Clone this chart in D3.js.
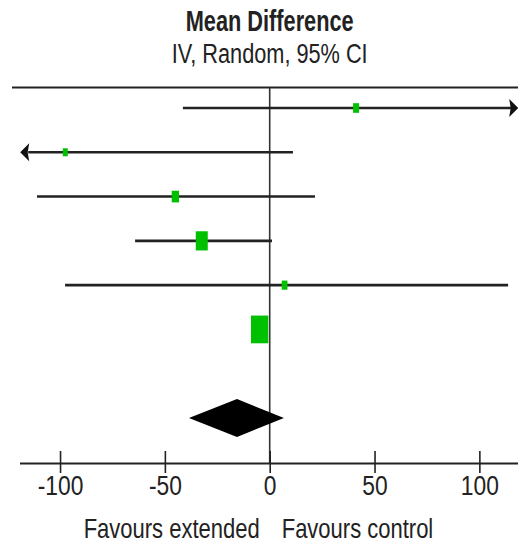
<!DOCTYPE html>
<html>
<head>
<meta charset="utf-8">
<script src="https://cdn.jsdelivr.net/npm/d3@7"></script>
<style>
  html, body { margin: 0; padding: 0; background: #fff; }
  svg { display: block; }
  text { font-family: "Liberation Sans", Arial, sans-serif; fill: #222; }
</style>
</head>
<body>
<script>
// Study-level mean differences (IV, random effects) with 95% confidence limits
const studyRows   = [0, 1, 2, 3, 4, 5];
const meanDiff    = [41.2, -97.5, -45.0, -32.4, 7.1, -4.8];
const ciLow       = [-41.4, -131.0, -111.0, -64.2, -97.6, -7.5];
const ciHigh      = [124.0, 11.1, 21.6, 1.1, 113.7, -2.1];
const weightPct   = [6.1, 4.2, 9.0, 24.4, 5.5, 50.8];

// Pooled estimate
const pooledRow   = 7;
const pooledMean  = -15.6;
const pooledLow   = -38.5;
const pooledHigh  = 6.8;

// Axis
const axisDomain  = [-119, 119];
const tickValues  = [-100, -50, 0, 50, 100];
const headerLines = ["Mean Difference", "IV, Random, 95% CI"];
const favourLeft  = "Favours extended";
const favourRight = "Favours control";

const W = 518, H = 546;
const axisY = 463, topRuleY = 87.5;
const narrow = 0.8;   // condensed lettering

const svg = d3.select("body").append("svg")
  .attr("width", W).attr("height", H);

const x = d3.scaleLinear().domain(axisDomain).range([20.2, 519.2]);
const y = d3.scaleLinear().domain([0, pooledRow]).range([108, 418]);
const boxW = d3.scaleSqrt().domain([0, 100]).range([0, 24.3]);

// Condensed text placed at (px, py)
function label(str, px, py, size, anchor, sx, bold) {
  return svg.append("text")
    .attr("transform", `translate(${px},${py}) scale(${sx},1)`)
    .attr("text-anchor", anchor)
    .attr("font-size", size)
    .attr("font-weight", bold ? "bold" : null)
    .text(str);
}

// Header
label(headerLines[0], x(0), 31, 29, "middle", 0.75, true);
label(headerLines[1], x(0), 63, 27.5, "middle", 0.79, false);

// Top rule
svg.append("line")
  .attr("x1", 12).attr("x2", W)
  .attr("y1", topRuleY).attr("y2", topRuleY)
  .attr("stroke", "#222").attr("stroke-width", 2.2);

// Line of no effect
svg.append("line")
  .attr("x1", x(0)).attr("x2", x(0))
  .attr("y1", topRuleY).attr("y2", axisY)
  .attr("stroke", "#333").attr("stroke-width", 1.6);

// Confidence interval lines, with arrowheads where they run past the axis
const [dMin, dMax] = axisDomain;
const arrowLen = 9, arrowHalf = 9;
const rows = studyRows.map(i => ({
  i, md: meanDiff[i], lo: ciLow[i], hi: ciHigh[i], w: weightPct[i]
}));

const ci = svg.append("g");
rows.forEach(r => {
  const yc = y(r.i);
  const loClip = r.lo < dMin, hiClip = r.hi > dMax;
  const x1 = loClip ? x(dMin) + arrowLen - 1 : x(r.lo);
  const x2 = hiClip ? x(dMax) - arrowLen + 1 : x(r.hi);
  ci.append("line")
    .attr("x1", x1).attr("x2", x2)
    .attr("y1", yc).attr("y2", yc)
    .attr("stroke", "#222").attr("stroke-width", 2.6);
  if (loClip) {
    const tip = x(dMin);
    ci.append("path")
      .attr("d", `M${tip},${yc} L${tip + arrowLen},${yc - arrowHalf} L${tip + arrowLen - 1.5},${yc} L${tip + arrowLen},${yc + arrowHalf} Z`)
      .attr("fill", "#111");
  }
  if (hiClip) {
    const tip = x(dMax) - 1;
    ci.append("path")
      .attr("d", `M${tip},${yc} L${tip - arrowLen},${yc - arrowHalf} L${tip - arrowLen + 1.5},${yc} L${tip - arrowLen},${yc + arrowHalf} Z`)
      .attr("fill", "#111");
  }
});

// Weighted point estimates
svg.append("g").selectAll("rect")
  .data(rows)
  .join("rect")
  .attr("x", d => x(d.md) - boxW(d.w) / 2)
  .attr("y", d => y(d.i) - boxW(d.w) * 1.6 / 2)
  .attr("width", d => boxW(d.w))
  .attr("height", d => boxW(d.w) * 1.6)
  .attr("fill", "#00c000");

// Pooled diamond
const yd = y(pooledRow), dh = 19;
svg.append("path")
  .attr("d", `M${x(pooledLow)},${yd} L${x(pooledMean)},${yd - dh} L${x(pooledHigh)},${yd} L${x(pooledMean)},${yd + dh} Z`)
  .attr("fill", "#000");

// Bottom axis
const axisG = svg.append("g")
  .attr("transform", `translate(0,${axisY})`)
  .call(d3.axisBottom(x).tickValues(tickValues).tickFormat(d => String(d)).tickSizeOuter(0));
axisG.attr("font-family", null).attr("font-size", null);
axisG.select(".domain")
  .attr("d", `M20,0.5H${W}`)
  .attr("stroke", "#222").attr("stroke-width", 2.2);
axisG.selectAll(".tick line")
  .attr("y1", -12).attr("y2", 10)
  .attr("stroke", "#222").attr("stroke-width", 1.6);
axisG.selectAll(".tick text")
  .attr("y", null).attr("dy", null)
  .attr("transform", `translate(0,32) scale(${narrow},1)`)
  .attr("font-size", 28.5)
  .attr("fill", "#222");

// Direction labels
label(favourLeft, x(0) - 10, 538, 27.5, "end", narrow, false);
label(favourRight, x(0) + 12, 538, 27.5, "start", narrow, false);
</script>
</body>
</html>
